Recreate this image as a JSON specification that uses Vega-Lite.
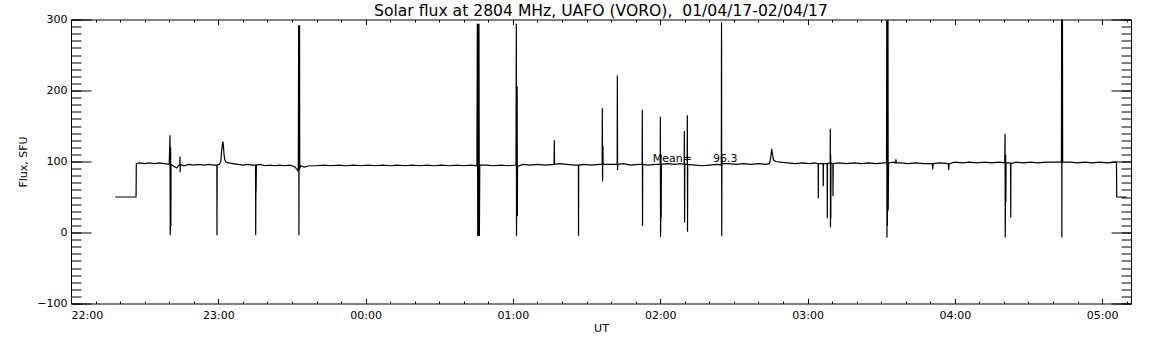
{
  "$schema": "https://vega.github.io/schema/vega-lite/v6.json",
  "width": 1060,
  "height": 284,
  "autosize": {"type": "none"},
  "padding": {"left": 71, "top": 19.5, "right": 21, "bottom": 41.5},
  "background": "white",
  "config": {
    "font": "DejaVu Sans",
    "view": {"stroke": "black", "strokeWidth": 1},
    "axis": {"domain": false, "grid": false, "tickColor": "black", "tickWidth": 1, "labelColor": "black", "labelFont": "DejaVu Sans", "labelFontSize": 11, "titleFont": "DejaVu Sans", "titleFontSize": 11, "titleFontWeight": "normal", "titleColor": "black"}
  },
  "title": {"text": "Solar flux at 2804 MHz, UAFO (VORO), \u00a001/04/17-02/04/17", "fontSize": 15.6, "fontWeight": "normal", "font": "DejaVu Sans", "color": "black", "frame": "group", "baseline": "alphabetic", "offset": 4.5, "dy": 23, "anchor": "middle"},
  "datasets": {
    "fluxdata": [
      {"time": "2017-04-01T22:18:00", "flux": 50},
      {"time": "2017-04-01T22:26:30", "flux": 50},
      {"time": "2017-04-01T22:26:36", "flux": 97},
      {"time": "2017-04-01T22:28:00", "flux": 98},
      {"time": "2017-04-01T22:30:00", "flux": 97},
      {"time": "2017-04-01T22:32:00", "flux": 98},
      {"time": "2017-04-01T22:34:00", "flux": 97},
      {"time": "2017-04-01T22:36:00", "flux": 98},
      {"time": "2017-04-01T22:38:00", "flux": 97},
      {"time": "2017-04-01T22:40:00", "flux": 96},
      {"time": "2017-04-01T22:40:20", "flux": 137},
      {"time": "2017-04-01T22:40:25", "flux": -4},
      {"time": "2017-04-01T22:40:30", "flux": 9},
      {"time": "2017-04-01T22:40:35", "flux": 120},
      {"time": "2017-04-01T22:40:40", "flux": 9},
      {"time": "2017-04-01T22:40:45", "flux": 96},
      {"time": "2017-04-01T22:42:00", "flux": 93},
      {"time": "2017-04-01T22:43:00", "flux": 91},
      {"time": "2017-04-01T22:44:20", "flux": 96},
      {"time": "2017-04-01T22:44:24", "flux": 107},
      {"time": "2017-04-01T22:44:28", "flux": 85},
      {"time": "2017-04-01T22:44:32", "flux": 96},
      {"time": "2017-04-01T22:46:00", "flux": 94},
      {"time": "2017-04-01T22:48:00", "flux": 96},
      {"time": "2017-04-01T22:50:00", "flux": 95},
      {"time": "2017-04-01T22:52:00", "flux": 96},
      {"time": "2017-04-01T22:54:00", "flux": 95},
      {"time": "2017-04-01T22:56:00", "flux": 96},
      {"time": "2017-04-01T22:58:00", "flux": 95},
      {"time": "2017-04-01T22:59:24", "flux": 95},
      {"time": "2017-04-01T22:59:28", "flux": -4},
      {"time": "2017-04-01T22:59:32", "flux": 95},
      {"time": "2017-04-01T23:00:30", "flux": 96},
      {"time": "2017-04-01T23:01:00", "flux": 100},
      {"time": "2017-04-01T23:01:30", "flux": 120},
      {"time": "2017-04-01T23:01:48", "flux": 128},
      {"time": "2017-04-01T23:02:00", "flux": 126},
      {"time": "2017-04-01T23:02:20", "flux": 110},
      {"time": "2017-04-01T23:02:40", "flux": 102},
      {"time": "2017-04-01T23:03:10", "flux": 99},
      {"time": "2017-04-01T23:04:00", "flux": 98},
      {"time": "2017-04-01T23:06:00", "flux": 97},
      {"time": "2017-04-01T23:08:00", "flux": 96},
      {"time": "2017-04-01T23:10:00", "flux": 95},
      {"time": "2017-04-01T23:12:00", "flux": 96},
      {"time": "2017-04-01T23:14:00", "flux": 95},
      {"time": "2017-04-01T23:15:10", "flux": 95},
      {"time": "2017-04-01T23:15:14", "flux": -4},
      {"time": "2017-04-01T23:15:18", "flux": 55},
      {"time": "2017-04-01T23:15:24", "flux": 60},
      {"time": "2017-04-01T23:15:30", "flux": 95},
      {"time": "2017-04-01T23:17:00", "flux": 96},
      {"time": "2017-04-01T23:19:00", "flux": 94},
      {"time": "2017-04-01T23:21:00", "flux": 95},
      {"time": "2017-04-01T23:23:00", "flux": 94},
      {"time": "2017-04-01T23:25:00", "flux": 95},
      {"time": "2017-04-01T23:27:00", "flux": 94},
      {"time": "2017-04-01T23:29:00", "flux": 95},
      {"time": "2017-04-01T23:31:00", "flux": 93},
      {"time": "2017-04-01T23:32:20", "flux": 88},
      {"time": "2017-04-01T23:32:35", "flux": 86},
      {"time": "2017-04-01T23:32:44", "flux": 292},
      {"time": "2017-04-01T23:32:50", "flux": -4},
      {"time": "2017-04-01T23:32:55", "flux": 292},
      {"time": "2017-04-01T23:33:00", "flux": 88},
      {"time": "2017-04-01T23:33:05", "flux": 292},
      {"time": "2017-04-01T23:33:10", "flux": 90},
      {"time": "2017-04-01T23:33:30", "flux": 94},
      {"time": "2017-04-01T23:35:00", "flux": 92},
      {"time": "2017-04-01T23:37:00", "flux": 94},
      {"time": "2017-04-01T23:40:00", "flux": 94},
      {"time": "2017-04-01T23:43:00", "flux": 95},
      {"time": "2017-04-01T23:46:00", "flux": 94},
      {"time": "2017-04-01T23:49:00", "flux": 95},
      {"time": "2017-04-01T23:52:00", "flux": 94},
      {"time": "2017-04-01T23:55:00", "flux": 95},
      {"time": "2017-04-01T23:58:00", "flux": 94},
      {"time": "2017-04-02T00:01:00", "flux": 95},
      {"time": "2017-04-02T00:04:00", "flux": 94},
      {"time": "2017-04-02T00:07:00", "flux": 95},
      {"time": "2017-04-02T00:10:00", "flux": 94},
      {"time": "2017-04-02T00:13:00", "flux": 95},
      {"time": "2017-04-02T00:16:00", "flux": 94},
      {"time": "2017-04-02T00:19:00", "flux": 95},
      {"time": "2017-04-02T00:22:00", "flux": 94},
      {"time": "2017-04-02T00:25:00", "flux": 95},
      {"time": "2017-04-02T00:28:00", "flux": 94},
      {"time": "2017-04-02T00:31:00", "flux": 95},
      {"time": "2017-04-02T00:34:00", "flux": 94},
      {"time": "2017-04-02T00:37:00", "flux": 95},
      {"time": "2017-04-02T00:40:00", "flux": 94},
      {"time": "2017-04-02T00:43:00", "flux": 95},
      {"time": "2017-04-02T00:45:20", "flux": 94},
      {"time": "2017-04-02T00:45:30", "flux": 294},
      {"time": "2017-04-02T00:45:40", "flux": -5},
      {"time": "2017-04-02T00:45:50", "flux": 294},
      {"time": "2017-04-02T00:46:00", "flux": -5},
      {"time": "2017-04-02T00:46:10", "flux": 294},
      {"time": "2017-04-02T00:46:20", "flux": -5},
      {"time": "2017-04-02T00:46:30", "flux": 95},
      {"time": "2017-04-02T00:49:00", "flux": 95},
      {"time": "2017-04-02T00:52:00", "flux": 94},
      {"time": "2017-04-02T00:55:00", "flux": 95},
      {"time": "2017-04-02T00:58:00", "flux": 94},
      {"time": "2017-04-02T01:01:15", "flux": 95},
      {"time": "2017-04-02T01:01:23", "flux": 294},
      {"time": "2017-04-02T01:01:28", "flux": -5},
      {"time": "2017-04-02T01:01:33", "flux": 206},
      {"time": "2017-04-02T01:01:38", "flux": 23},
      {"time": "2017-04-02T01:01:43", "flux": 206},
      {"time": "2017-04-02T01:01:48", "flux": 23},
      {"time": "2017-04-02T01:01:53", "flux": 93},
      {"time": "2017-04-02T01:04:00", "flux": 96},
      {"time": "2017-04-02T01:07:00", "flux": 95},
      {"time": "2017-04-02T01:10:00", "flux": 96},
      {"time": "2017-04-02T01:13:00", "flux": 95},
      {"time": "2017-04-02T01:16:45", "flux": 96},
      {"time": "2017-04-02T01:16:52", "flux": 130},
      {"time": "2017-04-02T01:16:57", "flux": 96},
      {"time": "2017-04-02T01:19:00", "flux": 97},
      {"time": "2017-04-02T01:22:00", "flux": 96},
      {"time": "2017-04-02T01:25:00", "flux": 95},
      {"time": "2017-04-02T01:26:40", "flux": 95},
      {"time": "2017-04-02T01:26:43", "flux": -5},
      {"time": "2017-04-02T01:26:47", "flux": 95},
      {"time": "2017-04-02T01:29:00", "flux": 96},
      {"time": "2017-04-02T01:32:00", "flux": 95},
      {"time": "2017-04-02T01:35:00", "flux": 96},
      {"time": "2017-04-02T01:36:20", "flux": 96},
      {"time": "2017-04-02T01:36:25", "flux": 175},
      {"time": "2017-04-02T01:36:30", "flux": 72},
      {"time": "2017-04-02T01:36:35", "flux": 96},
      {"time": "2017-04-02T01:36:40", "flux": 122},
      {"time": "2017-04-02T01:36:45", "flux": 96},
      {"time": "2017-04-02T01:39:00", "flux": 96},
      {"time": "2017-04-02T01:42:28", "flux": 96},
      {"time": "2017-04-02T01:42:32", "flux": 221},
      {"time": "2017-04-02T01:42:37", "flux": 88},
      {"time": "2017-04-02T01:42:42", "flux": 96},
      {"time": "2017-04-02T01:45:00", "flux": 97},
      {"time": "2017-04-02T01:48:00", "flux": 95},
      {"time": "2017-04-02T01:51:00", "flux": 96},
      {"time": "2017-04-02T01:52:38", "flux": 96},
      {"time": "2017-04-02T01:52:42", "flux": 173},
      {"time": "2017-04-02T01:52:47", "flux": 9},
      {"time": "2017-04-02T01:52:52", "flux": 96},
      {"time": "2017-04-02T01:55:00", "flux": 95},
      {"time": "2017-04-02T01:58:00", "flux": 96},
      {"time": "2017-04-02T02:00:00", "flux": 96},
      {"time": "2017-04-02T02:00:03", "flux": 163},
      {"time": "2017-04-02T02:00:08", "flux": -6},
      {"time": "2017-04-02T02:00:13", "flux": 21},
      {"time": "2017-04-02T02:00:18", "flux": 110},
      {"time": "2017-04-02T02:00:23", "flux": 21},
      {"time": "2017-04-02T02:00:28", "flux": 96},
      {"time": "2017-04-02T02:03:00", "flux": 97},
      {"time": "2017-04-02T02:06:00", "flux": 96},
      {"time": "2017-04-02T02:08:00", "flux": 97},
      {"time": "2017-04-02T02:09:45", "flux": 96},
      {"time": "2017-04-02T02:09:50", "flux": 143},
      {"time": "2017-04-02T02:09:55", "flux": 14},
      {"time": "2017-04-02T02:10:00", "flux": 96},
      {"time": "2017-04-02T02:10:57", "flux": 96},
      {"time": "2017-04-02T02:11:02", "flux": 165},
      {"time": "2017-04-02T02:11:07", "flux": 1},
      {"time": "2017-04-02T02:11:12", "flux": 96},
      {"time": "2017-04-02T02:14:00", "flux": 95},
      {"time": "2017-04-02T02:17:00", "flux": 94},
      {"time": "2017-04-02T02:20:00", "flux": 95},
      {"time": "2017-04-02T02:23:00", "flux": 96},
      {"time": "2017-04-02T02:24:53", "flux": 95},
      {"time": "2017-04-02T02:24:58", "flux": 296},
      {"time": "2017-04-02T02:25:03", "flux": -5},
      {"time": "2017-04-02T02:25:08", "flux": 103},
      {"time": "2017-04-02T02:25:13", "flux": 97},
      {"time": "2017-04-02T02:28:00", "flux": 97},
      {"time": "2017-04-02T02:31:00", "flux": 96},
      {"time": "2017-04-02T02:34:00", "flux": 97},
      {"time": "2017-04-02T02:37:00", "flux": 96},
      {"time": "2017-04-02T02:40:00", "flux": 97},
      {"time": "2017-04-02T02:43:00", "flux": 96},
      {"time": "2017-04-02T02:44:30", "flux": 97},
      {"time": "2017-04-02T02:45:00", "flux": 105},
      {"time": "2017-04-02T02:45:25", "flux": 118},
      {"time": "2017-04-02T02:45:45", "flux": 110},
      {"time": "2017-04-02T02:46:10", "flux": 102},
      {"time": "2017-04-02T02:47:00", "flux": 100},
      {"time": "2017-04-02T02:49:00", "flux": 99},
      {"time": "2017-04-02T02:52:00", "flux": 98},
      {"time": "2017-04-02T02:55:00", "flux": 97},
      {"time": "2017-04-02T02:58:00", "flux": 98},
      {"time": "2017-04-02T03:01:00", "flux": 97},
      {"time": "2017-04-02T03:03:00", "flux": 98},
      {"time": "2017-04-02T03:04:20", "flux": 97},
      {"time": "2017-04-02T03:04:23", "flux": 48},
      {"time": "2017-04-02T03:04:27", "flux": 97},
      {"time": "2017-04-02T03:06:22", "flux": 97},
      {"time": "2017-04-02T03:06:25", "flux": 65},
      {"time": "2017-04-02T03:06:29", "flux": 97},
      {"time": "2017-04-02T03:08:00", "flux": 97},
      {"time": "2017-04-02T03:08:03", "flux": 20},
      {"time": "2017-04-02T03:08:07", "flux": 97},
      {"time": "2017-04-02T03:09:13", "flux": 98},
      {"time": "2017-04-02T03:09:17", "flux": 146},
      {"time": "2017-04-02T03:09:21", "flux": 7},
      {"time": "2017-04-02T03:09:25", "flux": 110},
      {"time": "2017-04-02T03:09:29", "flux": 20},
      {"time": "2017-04-02T03:09:33", "flux": 98},
      {"time": "2017-04-02T03:10:19", "flux": 97},
      {"time": "2017-04-02T03:10:23", "flux": 51},
      {"time": "2017-04-02T03:10:27", "flux": 97},
      {"time": "2017-04-02T03:13:00", "flux": 98},
      {"time": "2017-04-02T03:16:00", "flux": 97},
      {"time": "2017-04-02T03:19:00", "flux": 98},
      {"time": "2017-04-02T03:22:00", "flux": 97},
      {"time": "2017-04-02T03:25:00", "flux": 98},
      {"time": "2017-04-02T03:28:00", "flux": 97},
      {"time": "2017-04-02T03:31:00", "flux": 98},
      {"time": "2017-04-02T03:32:10", "flux": 98},
      {"time": "2017-04-02T03:32:16", "flux": 299},
      {"time": "2017-04-02T03:32:21", "flux": -7},
      {"time": "2017-04-02T03:32:26", "flux": 299},
      {"time": "2017-04-02T03:32:31", "flux": 9},
      {"time": "2017-04-02T03:32:36", "flux": 299},
      {"time": "2017-04-02T03:32:41", "flux": 31},
      {"time": "2017-04-02T03:32:46", "flux": 299},
      {"time": "2017-04-02T03:32:51", "flux": 31},
      {"time": "2017-04-02T03:33:00", "flux": 98},
      {"time": "2017-04-02T03:35:00", "flux": 99},
      {"time": "2017-04-02T03:35:50", "flux": 98},
      {"time": "2017-04-02T03:36:00", "flux": 103},
      {"time": "2017-04-02T03:36:10", "flux": 98},
      {"time": "2017-04-02T03:38:00", "flux": 98},
      {"time": "2017-04-02T03:41:00", "flux": 97},
      {"time": "2017-04-02T03:44:00", "flux": 98},
      {"time": "2017-04-02T03:47:00", "flux": 97},
      {"time": "2017-04-02T03:50:50", "flux": 97},
      {"time": "2017-04-02T03:51:00", "flux": 89},
      {"time": "2017-04-02T03:51:10", "flux": 97},
      {"time": "2017-04-02T03:54:00", "flux": 98},
      {"time": "2017-04-02T03:57:20", "flux": 97},
      {"time": "2017-04-02T03:57:30", "flux": 88},
      {"time": "2017-04-02T03:57:40", "flux": 97},
      {"time": "2017-04-02T04:00:00", "flux": 99},
      {"time": "2017-04-02T04:03:00", "flux": 98},
      {"time": "2017-04-02T04:06:00", "flux": 99},
      {"time": "2017-04-02T04:09:00", "flux": 98},
      {"time": "2017-04-02T04:12:00", "flux": 99},
      {"time": "2017-04-02T04:15:00", "flux": 98},
      {"time": "2017-04-02T04:18:00", "flux": 99},
      {"time": "2017-04-02T04:20:20", "flux": 98},
      {"time": "2017-04-02T04:20:27", "flux": 139},
      {"time": "2017-04-02T04:20:32", "flux": -7},
      {"time": "2017-04-02T04:20:37", "flux": 43},
      {"time": "2017-04-02T04:20:42", "flux": 110},
      {"time": "2017-04-02T04:20:47", "flux": 43},
      {"time": "2017-04-02T04:20:52", "flux": 98},
      {"time": "2017-04-02T04:22:42", "flux": 98},
      {"time": "2017-04-02T04:22:46", "flux": 21},
      {"time": "2017-04-02T04:22:50", "flux": 97},
      {"time": "2017-04-02T04:25:00", "flux": 99},
      {"time": "2017-04-02T04:28:00", "flux": 98},
      {"time": "2017-04-02T04:31:00", "flux": 99},
      {"time": "2017-04-02T04:34:00", "flux": 98},
      {"time": "2017-04-02T04:37:00", "flux": 99},
      {"time": "2017-04-02T04:40:00", "flux": 99},
      {"time": "2017-04-02T04:43:25", "flux": 99},
      {"time": "2017-04-02T04:43:30", "flux": 300},
      {"time": "2017-04-02T04:43:35", "flux": -7},
      {"time": "2017-04-02T04:43:40", "flux": 300},
      {"time": "2017-04-02T04:43:45", "flux": 99},
      {"time": "2017-04-02T04:43:50", "flux": 300},
      {"time": "2017-04-02T04:43:55", "flux": 99},
      {"time": "2017-04-02T04:47:00", "flux": 99},
      {"time": "2017-04-02T04:50:00", "flux": 98},
      {"time": "2017-04-02T04:53:00", "flux": 99},
      {"time": "2017-04-02T04:56:00", "flux": 98},
      {"time": "2017-04-02T04:59:00", "flux": 99},
      {"time": "2017-04-02T05:02:00", "flux": 98},
      {"time": "2017-04-02T05:05:50", "flux": 99},
      {"time": "2017-04-02T05:05:56", "flux": 50},
      {"time": "2017-04-02T05:10:00", "flux": 50}
    ],
    "meanlabel": [
      {"time": "2017-04-02T01:57:00", "flux": 100, "label": "Mean=\u00a0\u00a0\u00a0\u00a0\u00a0\u00a096.3"}
    ]
  },
  "resolve": {"axis": {"x": "independent", "y": "independent"}},
  "layer": [
    {
      "data": {"name": "fluxdata"},
      "mark": {"type": "line", "color": "black", "strokeWidth": 1.2},
      "encoding": {
        "x": {"field": "time", "type": "temporal",
          "scale": {"domain": [{"year": 2017, "month": 4, "date": 1, "hours": 22}, {"year": 2017, "month": 4, "date": 2, "hours": 5, "minutes": 11, "seconds": 45}], "nice": false},
          "axis": {"orient": "bottom", "title": "UT", "format": "%H:%M", "tickCount": 8, "tickSize": -5, "labelPadding": 11, "titlePadding": 2}},
        "y": {"field": "flux", "type": "quantitative",
          "scale": {"domain": [-100, 300], "nice": false, "zero": false},
          "axis": {"orient": "left", "title": "Flux, SFU", "values": [-100, 0, 100, 200, 300], "tickSize": -20, "labelPadding": 24, "titlePadding": 8}}
      }
    },
    {
      "data": {"name": "meanlabel"},
      "mark": {"type": "text", "align": "left", "baseline": "alphabetic", "fontSize": 11, "font": "DejaVu Sans", "color": "black"},
      "encoding": {
        "text": {"field": "label"},
        "x": {"field": "time", "type": "temporal",
          "axis": {"orient": "bottom", "title": null, "labels": false, "tickSize": -2.5,
            "values": [
              {"year": 2017, "month": 4, "date": 1, "hours": 22, "minutes": 0},
              {"year": 2017, "month": 4, "date": 1, "hours": 22, "minutes": 10},
              {"year": 2017, "month": 4, "date": 1, "hours": 22, "minutes": 20},
              {"year": 2017, "month": 4, "date": 1, "hours": 22, "minutes": 30},
              {"year": 2017, "month": 4, "date": 1, "hours": 22, "minutes": 40},
              {"year": 2017, "month": 4, "date": 1, "hours": 22, "minutes": 50},
              {"year": 2017, "month": 4, "date": 1, "hours": 23, "minutes": 0},
              {"year": 2017, "month": 4, "date": 1, "hours": 23, "minutes": 10},
              {"year": 2017, "month": 4, "date": 1, "hours": 23, "minutes": 20},
              {"year": 2017, "month": 4, "date": 1, "hours": 23, "minutes": 30},
              {"year": 2017, "month": 4, "date": 1, "hours": 23, "minutes": 40},
              {"year": 2017, "month": 4, "date": 1, "hours": 23, "minutes": 50},
              {"year": 2017, "month": 4, "date": 2, "hours": 0, "minutes": 0},
              {"year": 2017, "month": 4, "date": 2, "hours": 0, "minutes": 10},
              {"year": 2017, "month": 4, "date": 2, "hours": 0, "minutes": 20},
              {"year": 2017, "month": 4, "date": 2, "hours": 0, "minutes": 30},
              {"year": 2017, "month": 4, "date": 2, "hours": 0, "minutes": 40},
              {"year": 2017, "month": 4, "date": 2, "hours": 0, "minutes": 50},
              {"year": 2017, "month": 4, "date": 2, "hours": 1, "minutes": 0},
              {"year": 2017, "month": 4, "date": 2, "hours": 1, "minutes": 10},
              {"year": 2017, "month": 4, "date": 2, "hours": 1, "minutes": 20},
              {"year": 2017, "month": 4, "date": 2, "hours": 1, "minutes": 30},
              {"year": 2017, "month": 4, "date": 2, "hours": 1, "minutes": 40},
              {"year": 2017, "month": 4, "date": 2, "hours": 1, "minutes": 50},
              {"year": 2017, "month": 4, "date": 2, "hours": 2, "minutes": 0},
              {"year": 2017, "month": 4, "date": 2, "hours": 2, "minutes": 10},
              {"year": 2017, "month": 4, "date": 2, "hours": 2, "minutes": 20},
              {"year": 2017, "month": 4, "date": 2, "hours": 2, "minutes": 30},
              {"year": 2017, "month": 4, "date": 2, "hours": 2, "minutes": 40},
              {"year": 2017, "month": 4, "date": 2, "hours": 2, "minutes": 50},
              {"year": 2017, "month": 4, "date": 2, "hours": 3, "minutes": 0},
              {"year": 2017, "month": 4, "date": 2, "hours": 3, "minutes": 10},
              {"year": 2017, "month": 4, "date": 2, "hours": 3, "minutes": 20},
              {"year": 2017, "month": 4, "date": 2, "hours": 3, "minutes": 30},
              {"year": 2017, "month": 4, "date": 2, "hours": 3, "minutes": 40},
              {"year": 2017, "month": 4, "date": 2, "hours": 3, "minutes": 50},
              {"year": 2017, "month": 4, "date": 2, "hours": 4, "minutes": 0},
              {"year": 2017, "month": 4, "date": 2, "hours": 4, "minutes": 10},
              {"year": 2017, "month": 4, "date": 2, "hours": 4, "minutes": 20},
              {"year": 2017, "month": 4, "date": 2, "hours": 4, "minutes": 30},
              {"year": 2017, "month": 4, "date": 2, "hours": 4, "minutes": 40},
              {"year": 2017, "month": 4, "date": 2, "hours": 4, "minutes": 50},
              {"year": 2017, "month": 4, "date": 2, "hours": 5, "minutes": 0},
              {"year": 2017, "month": 4, "date": 2, "hours": 5, "minutes": 10}
            ]}},
        "y": {"field": "flux", "type": "quantitative",
          "axis": {"orient": "left", "title": null, "labels": false, "tickSize": -10, "values": [-100, -90, -80, -70, -60, -50, -40, -30, -20, -10, 0, 10, 20, 30, 40, 50, 60, 70, 80, 90, 100, 110, 120, 130, 140, 150, 160, 170, 180, 190, 200, 210, 220, 230, 240, 250, 260, 270, 280, 290, 300]}}
      }
    },
    {
      "data": {"name": "meanlabel"},
      "mark": {"type": "text", "text": ""},
      "encoding": {
        "x": {"field": "time", "type": "temporal",
          "axis": {"orient": "top", "title": null, "labels": false, "tickCount": 8, "tickSize": -5}},
        "y": {"field": "flux", "type": "quantitative",
          "axis": {"orient": "right", "title": null, "labels": false, "values": [-100, 0, 100, 200, 300], "tickSize": -20}}
      }
    },
    {
      "data": {"name": "meanlabel"},
      "mark": {"type": "text", "text": ""},
      "encoding": {
        "x": {"field": "time", "type": "temporal",
          "axis": {"orient": "top", "title": null, "labels": false, "tickSize": -2.5,
            "values": [
              {"year": 2017, "month": 4, "date": 1, "hours": 22, "minutes": 0},
              {"year": 2017, "month": 4, "date": 1, "hours": 22, "minutes": 10},
              {"year": 2017, "month": 4, "date": 1, "hours": 22, "minutes": 20},
              {"year": 2017, "month": 4, "date": 1, "hours": 22, "minutes": 30},
              {"year": 2017, "month": 4, "date": 1, "hours": 22, "minutes": 40},
              {"year": 2017, "month": 4, "date": 1, "hours": 22, "minutes": 50},
              {"year": 2017, "month": 4, "date": 1, "hours": 23, "minutes": 0},
              {"year": 2017, "month": 4, "date": 1, "hours": 23, "minutes": 10},
              {"year": 2017, "month": 4, "date": 1, "hours": 23, "minutes": 20},
              {"year": 2017, "month": 4, "date": 1, "hours": 23, "minutes": 30},
              {"year": 2017, "month": 4, "date": 1, "hours": 23, "minutes": 40},
              {"year": 2017, "month": 4, "date": 1, "hours": 23, "minutes": 50},
              {"year": 2017, "month": 4, "date": 2, "hours": 0, "minutes": 0},
              {"year": 2017, "month": 4, "date": 2, "hours": 0, "minutes": 10},
              {"year": 2017, "month": 4, "date": 2, "hours": 0, "minutes": 20},
              {"year": 2017, "month": 4, "date": 2, "hours": 0, "minutes": 30},
              {"year": 2017, "month": 4, "date": 2, "hours": 0, "minutes": 40},
              {"year": 2017, "month": 4, "date": 2, "hours": 0, "minutes": 50},
              {"year": 2017, "month": 4, "date": 2, "hours": 1, "minutes": 0},
              {"year": 2017, "month": 4, "date": 2, "hours": 1, "minutes": 10},
              {"year": 2017, "month": 4, "date": 2, "hours": 1, "minutes": 20},
              {"year": 2017, "month": 4, "date": 2, "hours": 1, "minutes": 30},
              {"year": 2017, "month": 4, "date": 2, "hours": 1, "minutes": 40},
              {"year": 2017, "month": 4, "date": 2, "hours": 1, "minutes": 50},
              {"year": 2017, "month": 4, "date": 2, "hours": 2, "minutes": 0},
              {"year": 2017, "month": 4, "date": 2, "hours": 2, "minutes": 10},
              {"year": 2017, "month": 4, "date": 2, "hours": 2, "minutes": 20},
              {"year": 2017, "month": 4, "date": 2, "hours": 2, "minutes": 30},
              {"year": 2017, "month": 4, "date": 2, "hours": 2, "minutes": 40},
              {"year": 2017, "month": 4, "date": 2, "hours": 2, "minutes": 50},
              {"year": 2017, "month": 4, "date": 2, "hours": 3, "minutes": 0},
              {"year": 2017, "month": 4, "date": 2, "hours": 3, "minutes": 10},
              {"year": 2017, "month": 4, "date": 2, "hours": 3, "minutes": 20},
              {"year": 2017, "month": 4, "date": 2, "hours": 3, "minutes": 30},
              {"year": 2017, "month": 4, "date": 2, "hours": 3, "minutes": 40},
              {"year": 2017, "month": 4, "date": 2, "hours": 3, "minutes": 50},
              {"year": 2017, "month": 4, "date": 2, "hours": 4, "minutes": 0},
              {"year": 2017, "month": 4, "date": 2, "hours": 4, "minutes": 10},
              {"year": 2017, "month": 4, "date": 2, "hours": 4, "minutes": 20},
              {"year": 2017, "month": 4, "date": 2, "hours": 4, "minutes": 30},
              {"year": 2017, "month": 4, "date": 2, "hours": 4, "minutes": 40},
              {"year": 2017, "month": 4, "date": 2, "hours": 4, "minutes": 50},
              {"year": 2017, "month": 4, "date": 2, "hours": 5, "minutes": 0},
              {"year": 2017, "month": 4, "date": 2, "hours": 5, "minutes": 10}
            ]}},
        "y": {"field": "flux", "type": "quantitative",
          "axis": {"orient": "right", "title": null, "labels": false, "tickSize": -10, "values": [-100, -90, -80, -70, -60, -50, -40, -30, -20, -10, 0, 10, 20, 30, 40, 50, 60, 70, 80, 90, 100, 110, 120, 130, 140, 150, 160, 170, 180, 190, 200, 210, 220, 230, 240, 250, 260, 270, 280, 290, 300]}}
      }
    }
  ]
}
